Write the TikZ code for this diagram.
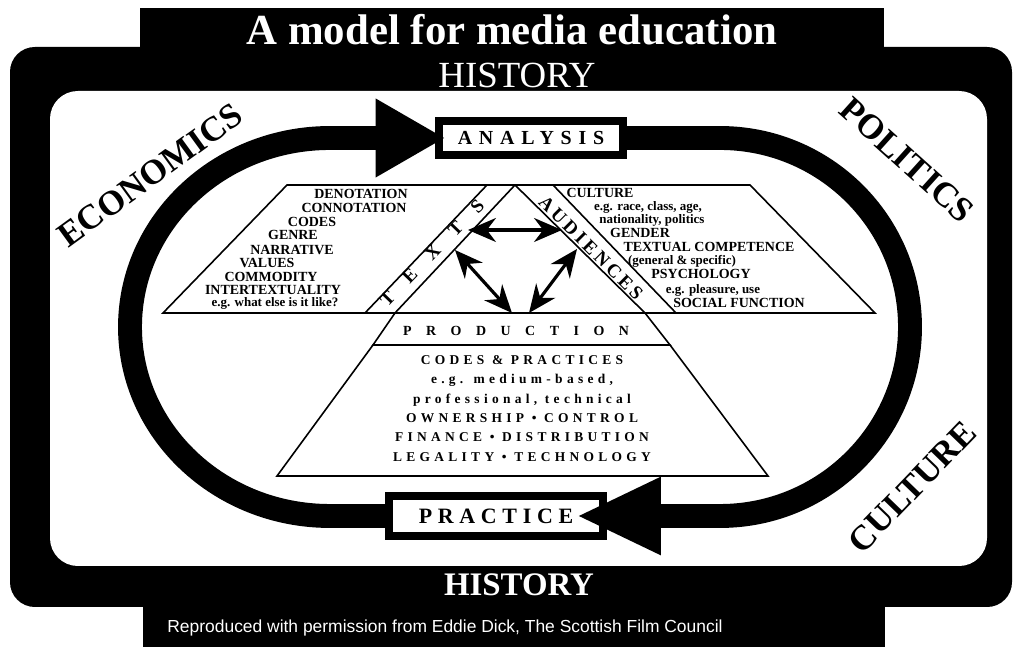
\documentclass[tikz,border=0pt]{standalone}
\usepackage{fontspec}
\setmainfont{Liberation Serif}
\newfontfamily\footfont{Liberation Sans}
\usetikzlibrary{arrows.meta}
\tikzset{band/.style={line width=24,color=black},
loopbox/.style={draw=black,line width=8,fill=white,inner sep=0pt},
sideword/.style={font=\fontsize{35}{35}\selectfont\bfseries,inner sep=0pt},
listitem/.style={font=\fontsize{14}{14}\selectfont\bfseries,inner sep=0pt},
listnote/.style={font=\fontsize{13}{13}\selectfont\bfseries,inner sep=0pt},
prodline/.style={font=\fontsize{13.5}{13.5}\selectfont\bfseries\addfontfeatures{LetterSpace=32},inner sep=0pt},
twoway/.style={{Stealth[length=28,width=24]}-{Stealth[length=28,width=24]},line width=3.2}}

\begin{document}
\begin{tikzpicture}[x=1bp,y=1bp,line join=miter]
\useasboundingbox (0,0) rectangle (1014,647);
\fill[white] (0,0) rectangle (1014,647);

%DRAWING FRAME
  \fill[black] (140,599) rectangle (884,639);
  \fill[black,rounded corners=25] (10,40) rectangle (1012,600);
  \fill[black] (143,0) rectangle (885,42);
  \fill[white,rounded corners=28] (50,81) rectangle (987,556);

  \node[text=white,inner sep=0pt,font=\fontsize{43}{43}\selectfont\bfseries] (title) at (512,617) {A model for media education};
  \node[text=white,inner sep=0pt,font=\fontsize{37}{37}\selectfont] (histtop) at (517,572) {HISTORY};
  \node[text=white,inner sep=0pt,font=\fontsize{33}{33}\selectfont\bfseries] (histbot) at (519,62) {HISTORY};
  \node[text=white,inner sep=0pt,font=\fontsize{17.5}{17.5}\selectfont\footfont] (credit) at (445,19) {Reproduced with permission from Eddie Dick, The Scottish Film Council};

  \node[sideword,rotate=36] (econ) at (150,472) {ECONOMICS};
  \node[sideword,rotate=-42] (polit) at (907,487) {POLITICS};
  \node[sideword,rotate=46] (cult) at (912,160) {CULTURE};

%DRAWING LOOP
  \node[loopbox,minimum width=184,minimum height=34,font=\fontsize{20}{20}\selectfont\bfseries\addfontfeatures{LetterSpace=34}] (analysis) at (531,509) {ANALYSIS};
  \node[loopbox,minimum width=215,minimum height=40,font=\fontsize{22}{22}\selectfont\bfseries\addfontfeatures{LetterSpace=26}] (practice) at (496,131) {PRACTICE};

  \draw[band,-{Triangle[length=85,width=72]},shorten >=-31] (analysis.east) -- (720,509)
    arc[start angle=90,end angle=-90,x radius=190,y radius=189] -- (practice.east);
  \draw[band,-{Triangle[length=70,width=74]},shorten >=-10] (practice.west) -- (330,131)
    arc[start angle=270,end angle=90,x radius=200,y radius=189] -- (analysis.west);

%DRAWING PYRAMID
  \draw[line width=1.6] (287,462) -- (487,462) -- (365,334) -- (163,334) -- cycle;
  \draw[line width=1.6] (487,462) -- (515,462) -- (395,334) -- (365,334);
  \draw[line width=1.6] (515,462) -- (645,334) -- (395,334);
  \draw[line width=1.6] (515,462) -- (553,462) -- (676,334) -- (645,334);
  \draw[line width=1.6] (553,462) -- (750,462) -- (875,334) -- (676,334);
  \draw[line width=1.6] (395,334) -- (645,334) -- (670,302) -- (373,302) -- cycle;
  \draw[line width=1.6] (373,302) -- (670,302) -- (768,171) -- (277,171) -- cycle;

  \node[inner sep=0pt,rotate=46,font=\fontsize{19}{19}\selectfont\bfseries\addfontfeatures{LetterSpace=104}] (texts) at (432,394) {TEXTS};
  \node[inner sep=0pt,rotate=-45,font=\fontsize{19}{19}\selectfont\bfseries\addfontfeatures{LetterSpace=18}] (audiences) at (591,399) {AUDIENCES};
  \node[inner sep=0pt,font=\fontsize{14}{14}\selectfont\bfseries\addfontfeatures{LetterSpace=104}] (production) at (516,316) {PRODUCTION};

%TEXTS LIST
  \node[listitem] (denot) at (361,453) {DENOTATION};
  \node[listitem] (connot) at (354,439) {CONNOTATION};
  \node[listitem] (codes) at (312,425) {CODES};
  \node[listitem] (genre) at (293,412) {GENRE};
  \node[listitem] (narr) at (292,397) {NARRATIVE};
  \node[listitem] (values) at (267,384) {VALUES};
  \node[listitem] (commod) at (271,370) {COMMODITY};
  \node[listitem] (intertext) at (273,357) {INTERTEXTUALITY};
  \node[listnote] (likeit) at (275,344) {e.g. what else is it like?};

%AUDIENCES LIST
  \node[listitem] (culture) at (600,454) {CULTURE};
  \node[listnote] (race) at (648,440) {e.g. race, class, age,};
  \node[listnote] (nation) at (652,427) {nationality, politics};
  \node[listitem] (gender) at (640,414) {GENDER};
  \node[listitem] (compet) at (709,400) {TEXTUAL COMPETENCE};
  \node[listnote] (general) at (682,386) {(general \& specific)};
  \node[listitem] (psych) at (701,373) {PSYCHOLOGY};
  \node[listnote] (pleasure) at (713,357) {e.g. pleasure, use};
  \node[listitem] (social) at (739,344) {SOCIAL FUNCTION};

%PRODUCTION LIST
  \node[prodline] (codesprac) at (522,287) {CODES \& PRACTICES};
  \node[prodline] (medium) at (522,267) {e.g. medium-based,};
  \node[prodline] (profess) at (522,247) {professional, technical};
  \node[prodline] (owner) at (522,229) {OWNERSHIP \textbullet{} CONTROL};
  \node[prodline] (finance) at (522,210) {FINANCE \textbullet{} DISTRIBUTION};
  \node[prodline] (legal) at (522,190) {LEGALITY \textbullet{} TECHNOLOGY};

%DRAWING INNER ARROWS
  \coordinate (textsA) at (468,417);
  \coordinate (audA) at (562,417);
  \coordinate (textsB) at (455,397);
  \coordinate (prodA) at (512,334);
  \coordinate (audB) at (577,398);
  \coordinate (prodB) at (529,334);
  \draw[twoway] (textsA) -- (audA);
  \draw[twoway] (textsB) -- (prodA);
  \draw[twoway] (audB) -- (prodB);

\end{tikzpicture}
\end{document}
